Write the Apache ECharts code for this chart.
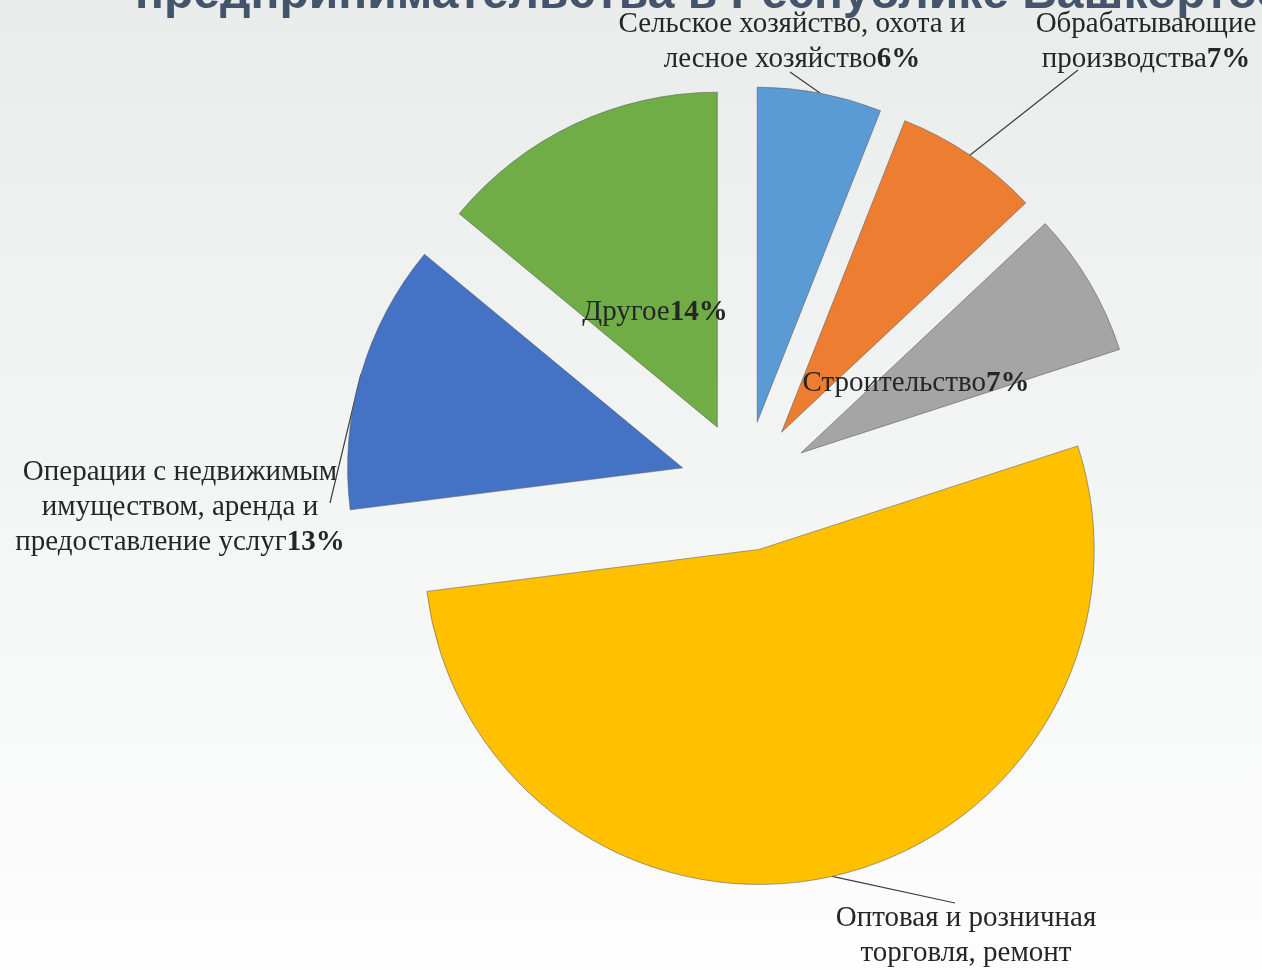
<!DOCTYPE html>
<html>
<head>
<meta charset="utf-8">
<script src="https://cdn.jsdelivr.net/npm/echarts@6/dist/echarts.min.js"></script>
<style>
html,body{margin:0;padding:0;}
#c{width:1262px;height:970px;}
</style>
</head>
<body>
<div id="c"></div>
<script>
// ---- data ----
var titleText = 'предпринимательства в Республике Башкортостан';
var categories = [
  'Сельское хозяйство, охота и\nлесное хозяйство',
  'Обрабатывающие\nпроизводства',
  'Строительство',
  'Оптовая и розничная\nторговля, ремонт\nавтотранспортных средств',
  'Операции с недвижимым\nимуществом, аренда и\nпредоставление услуг',
  'Другое'
];
var values = [6, 7, 7, 53, 13, 14];
var colors = ['#5b9bd5', '#ed7d31', '#a5a5a5', '#ffc000', '#4472c4', '#70ad47'];

// ---- label placement (styling only) ----
var labelStyle = [
  {x: 792, y: 7, line: true, ex: 790, ey: 72},
  {x: 1146, y: 7, line: true, ex: 1078, ey: 70},
  {x: 916, y: 366, line: false},
  {x: 966, y: 901, line: true, ex: 955, ey: 903},
  {x: 180, y: 455, line: true, ex: 330, ey: 503},
  {x: 655, y: 295, line: false}
];
var OFFSET = 65;
var FONT_FAMILY = '"Liberation Serif", "Times New Roman", serif';
var TEXT_COLOR = '#262626';

var chart = echarts.init(document.getElementById('c'), null, {renderer: 'canvas'});
var data = categories.map(function (c, i) {
  return {name: c, value: values[i], selected: true, itemStyle: {color: colors[i]}};
});

chart.setOption({
  animation: false,
  backgroundColor: {
    type: 'linear', x: 0, y: 0, x2: 0, y2: 1,
    colorStops: [{offset: 0, color: '#eaecec'}, {offset: 1, color: '#fdfdfd'}]
  },
  series: [{
    type: 'pie',
    center: [745, 486],
    radius: 335,
    startAngle: 90,
    clockwise: true,
    selectedMode: 'multiple',
    selectedOffset: OFFSET,
    emphasis: {disabled: true},
    itemStyle: {borderColor: 'rgba(90,90,90,0.55)', borderWidth: 1},
    label: {show: false},
    labelLine: {show: false},
    data: data
  }]
});

// Labels and leader lines, anchored on the library's own pie layout
var seriesData = chart.getModel().getSeriesByIndex(0).getData();
var graphics = [{
  type: 'text',
  left: 135,
  top: -29,
  silent: true,
  style: {
    text: titleText,
    font: 'bold 48px "Liberation Sans", Arial, sans-serif',
    fill: '#44546a'
  }
}];
categories.forEach(function (name, i) {
  var s = labelStyle[i];
  if (s.line) {
    var lay = seriesData.getItemLayout(i);
    var mid = (lay.startAngle + lay.endAngle) / 2;
    var rr = lay.r + OFFSET;
    var sx = lay.cx + Math.cos(mid) * rr;
    var sy = lay.cy + Math.sin(mid) * rr;
    graphics.push({
      type: 'line',
      silent: true,
      shape: {x1: sx, y1: sy, x2: s.ex, y2: s.ey},
      style: {stroke: '#3c3c3c', lineWidth: 1.2}
    });
  }
  graphics.push({
    type: 'text',
    silent: true,
    x: s.x,
    y: s.y,
    z: 10,
    style: {
      text: '{n|' + name + '}{p|' + values[i] + '%}',
      align: 'center',
      verticalAlign: 'top',
      fill: TEXT_COLOR,
      font: '29px ' + FONT_FAMILY,
      lineHeight: 35,
      rich: {
        n: {font: '29px ' + FONT_FAMILY, lineHeight: 35, fill: TEXT_COLOR, align: 'center'},
        p: {font: 'bold 29px ' + FONT_FAMILY, lineHeight: 35, fill: TEXT_COLOR, align: 'center'}
      }
    }
  });
});
chart.setOption({graphic: graphics});
</script>
</body>
</html>
